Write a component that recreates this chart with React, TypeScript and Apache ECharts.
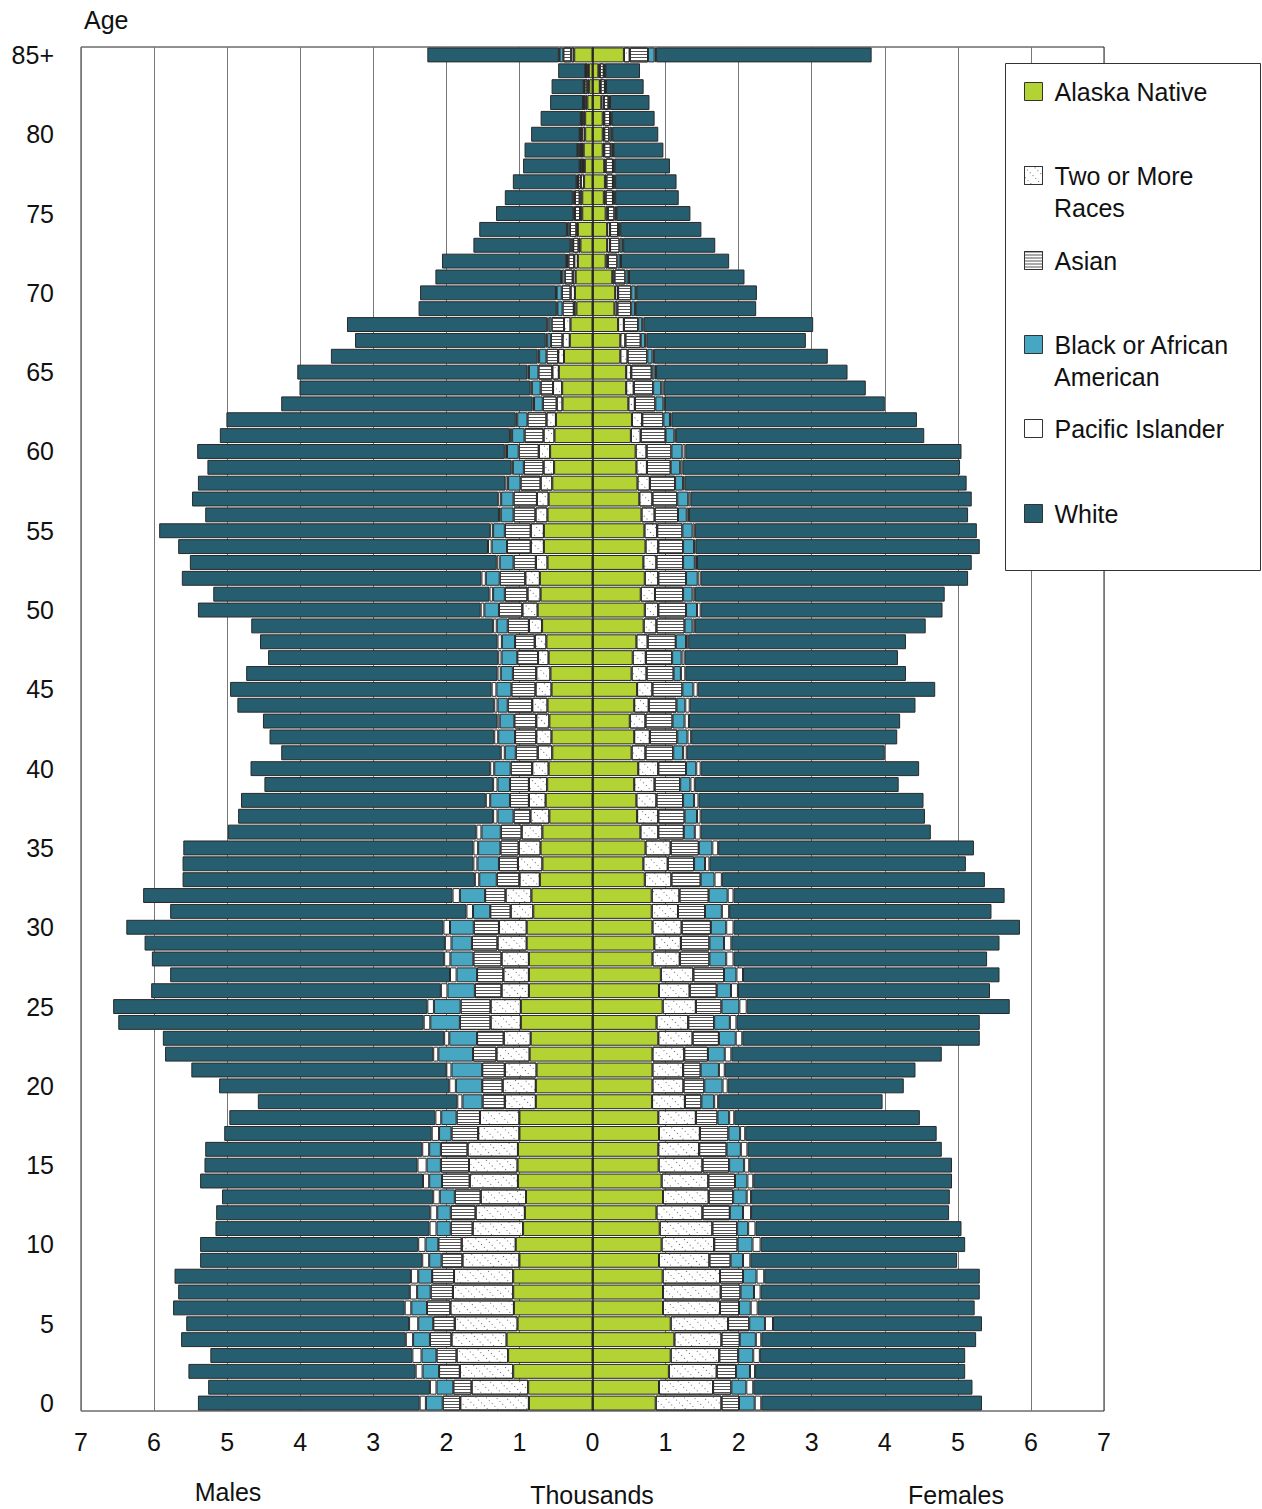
import React, { useEffect, useRef } from "react";
import * as echarts from "echarts";

// Ages 0..84 and 85+
const ages: string[] = [];
for (let i = 0; i < 85; i++) ages.push(String(i));
ages.push("85+");

const xTicks = [-7, -6, -5, -4, -3, -2, -1, 0, 1, 2, 3, 4, 5, 6, 7];

// ---- Males (thousands) ----
const mAlaska = [0.87,0.88,1.085,1.155,1.175,1.025,1.075,1.085,1.085,1.00, 1.05,0.95,0.925,0.91,1.02,1.025,1.02,1.00,1.00,0.775, 0.775,0.765,0.86,0.845,0.98,0.98,0.87,0.87,0.87,0.90, 0.90,0.81,0.835,0.72,0.685,0.71,0.685,0.59,0.64,0.62, 0.60,0.55,0.56,0.59,0.615,0.56,0.575,0.60,0.63,0.69, 0.75,0.71,0.72,0.615,0.665,0.665,0.615,0.60,0.55,0.525, 0.58,0.52,0.50,0.41,0.415,0.46,0.39,0.31,0.30,0.22, 0.24,0.23,0.20,0.165,0.20,0.14,0.14,0.115,0.105,0.12, 0.10,0.10,0.07,0.045,0.05,0.25];
const mTwo = [0.94,0.775,0.73,0.705,0.755,0.86,0.87,0.825,0.81,0.78, 0.74,0.69,0.675,0.62,0.66,0.665,0.69,0.565,0.54,0.425, 0.455,0.435,0.455,0.37,0.415,0.415,0.375,0.35,0.375,0.40, 0.38,0.31,0.355,0.28,0.335,0.30,0.285,0.26,0.23,0.25, 0.225,0.20,0.21,0.18,0.21,0.22,0.195,0.145,0.16,0.18, 0.21,0.18,0.20,0.16,0.18,0.18,0.165,0.16,0.16,0.145, 0.155,0.15,0.13,0.08,0.125,0.09,0.08,0.10,0.09,0.035, 0.06,0.04,0.05,0.025,0.02,0.03,0.035,0.045,0.025,0.025, 0.04,0.025,0.025,0.025,0.02,0.04];
const mAsian = [0.24,0.25,0.285,0.275,0.295,0.295,0.32,0.305,0.30,0.285, 0.32,0.30,0.34,0.355,0.38,0.385,0.365,0.365,0.32,0.305, 0.28,0.31,0.32,0.365,0.42,0.41,0.365,0.36,0.385,0.35, 0.345,0.28,0.28,0.31,0.26,0.25,0.285,0.23,0.26,0.26, 0.295,0.30,0.29,0.30,0.335,0.33,0.32,0.285,0.27,0.29, 0.32,0.31,0.35,0.305,0.325,0.355,0.30,0.32,0.275,0.27, 0.275,0.26,0.26,0.19,0.17,0.19,0.16,0.16,0.17,0.155, 0.12,0.11,0.08,0.075,0.09,0.07,0.065,0.04,0.03,0.025, 0.025,0.025,0.025,0.04,0.02,0.11];
const mBlack = [0.23,0.23,0.225,0.205,0.23,0.205,0.215,0.185,0.19,0.17, 0.175,0.195,0.185,0.205,0.175,0.195,0.16,0.17,0.21,0.275, 0.36,0.42,0.475,0.38,0.405,0.365,0.375,0.28,0.315,0.28, 0.325,0.235,0.345,0.24,0.295,0.305,0.265,0.22,0.27,0.17, 0.225,0.15,0.23,0.20,0.14,0.205,0.165,0.215,0.18,0.15, 0.20,0.16,0.19,0.19,0.21,0.16,0.175,0.17,0.17,0.15, 0.16,0.17,0.14,0.12,0.12,0.13,0.10,0.05,0.04,0.07, 0.07,0.04,0.02,0.025,0.03,0.01,0.02,0.01,0.01,0.03, 0.005,0.005,0.005,0.005,0.005,0.05];
const mPacific = [0.085,0.09,0.095,0.125,0.10,0.125,0.09,0.10,0.10,0.095, 0.10,0.095,0.095,0.09,0.085,0.125,0.095,0.10,0.08,0.07, 0.09,0.07,0.07,0.07,0.09,0.09,0.09,0.09,0.085,0.09, 0.09,0.09,0.10,0.06,0.055,0.065,0.07,0.06,0.06,0.06, 0.055,0.055,0.055,0.03,0.045,0.065,0.045,0.045,0.06,0.05, 0.05,0.05,0.06,0.04,0.05,0.04,0.025,0.04,0.035,0.02, 0.03,0.03,0.02,0.02,0.02,0.02,0.02,0.02,0.02,0.01, 0.01,0.01,0.01,0.01,0.01,0.01,0.01,0.01,0.005,0.005, 0.005,0.005,0.005,0.005,0.005,0.01];
const mWhite = [3.035,3.035,3.11,2.765,3.075,3.05,3.17,3.17,3.235,3.04, 2.985,2.93,2.93,2.89,3.05,2.915,2.97,2.84,2.82,2.73, 3.15,3.49,3.67,3.85,4.18,4.30,3.965,3.83,4.00,4.11, 4.34,4.055,4.235,4.00,3.98,3.97,3.40,3.49,3.35,3.13, 3.28,3.005,3.075,3.21,3.515,3.58,3.44,3.15,3.25,3.31, 3.87,3.78,4.10,4.20,4.24,4.53,4.02,4.19,4.21,4.16, 4.21,3.97,3.96,3.44,3.16,3.15,2.83,2.61,2.74,1.89, 1.86,1.72,1.70,1.33,1.20,1.06,0.93,0.87,0.775,0.725, 0.665,0.55,0.45,0.44,0.37,1.80];

// ---- Females (thousands) ----
const fAlaska = [0.865,0.91,1.045,1.07,1.12,1.07,0.965,0.965,0.96,0.91, 0.945,0.92,0.875,0.965,0.945,0.905,0.90,0.91,0.90,0.815, 0.82,0.82,0.82,0.90,0.875,0.96,0.91,0.935,0.82,0.845, 0.82,0.81,0.81,0.715,0.695,0.725,0.655,0.61,0.60,0.57, 0.625,0.535,0.57,0.51,0.57,0.61,0.535,0.55,0.60,0.70, 0.715,0.66,0.715,0.695,0.725,0.71,0.67,0.64,0.615,0.60, 0.59,0.525,0.54,0.49,0.46,0.46,0.38,0.38,0.35,0.30, 0.31,0.27,0.18,0.20,0.20,0.18,0.155,0.17,0.16,0.14, 0.14,0.14,0.12,0.10,0.08,0.43];
const fTwo = [0.90,0.74,0.655,0.665,0.645,0.785,0.78,0.79,0.785,0.69, 0.72,0.72,0.63,0.625,0.64,0.60,0.56,0.56,0.515,0.45, 0.425,0.42,0.435,0.47,0.435,0.455,0.42,0.445,0.375,0.365, 0.40,0.36,0.38,0.365,0.335,0.345,0.245,0.29,0.275,0.28, 0.275,0.19,0.215,0.215,0.20,0.21,0.205,0.18,0.155,0.175, 0.185,0.195,0.185,0.18,0.175,0.175,0.18,0.18,0.17,0.145, 0.15,0.135,0.14,0.09,0.105,0.07,0.10,0.07,0.08,0.04, 0.04,0.03,0.03,0.04,0.04,0.03,0.025,0.02,0.02,0.02, 0.02,0.02,0.035,0.01,0.02,0.08];
const fAsian = [0.24,0.25,0.265,0.26,0.25,0.29,0.26,0.27,0.315,0.29, 0.32,0.34,0.375,0.335,0.365,0.365,0.375,0.39,0.295,0.225, 0.285,0.24,0.325,0.36,0.355,0.35,0.37,0.42,0.405,0.39, 0.40,0.37,0.40,0.40,0.36,0.385,0.35,0.36,0.365,0.35, 0.38,0.38,0.375,0.37,0.38,0.41,0.37,0.36,0.385,0.385, 0.38,0.385,0.38,0.365,0.34,0.345,0.32,0.34,0.345,0.325, 0.34,0.34,0.29,0.28,0.265,0.28,0.27,0.21,0.195,0.19, 0.18,0.15,0.13,0.13,0.11,0.09,0.10,0.09,0.10,0.09, 0.07,0.08,0.065,0.06,0.055,0.25];
const fBlack = [0.215,0.205,0.19,0.205,0.22,0.215,0.16,0.185,0.185,0.17, 0.205,0.15,0.18,0.185,0.17,0.205,0.195,0.16,0.16,0.175, 0.25,0.25,0.23,0.23,0.215,0.245,0.195,0.17,0.23,0.20, 0.21,0.23,0.26,0.19,0.15,0.185,0.15,0.17,0.15,0.14, 0.14,0.135,0.14,0.165,0.12,0.15,0.10,0.13,0.14,0.11, 0.15,0.13,0.16,0.16,0.15,0.14,0.12,0.15,0.11,0.13, 0.15,0.12,0.09,0.11,0.11,0.04,0.07,0.06,0.055,0.05, 0.06,0.04,0.04,0.04,0.02,0.02,0.02,0.02,0.01,0.03, 0.03,0.01,0.01,0.01,0.015,0.09];
const fPacific = [0.09,0.095,0.07,0.09,0.075,0.11,0.095,0.09,0.105,0.10, 0.11,0.10,0.11,0.06,0.08,0.07,0.09,0.07,0.07,0.055, 0.07,0.08,0.09,0.09,0.09,0.10,0.095,0.09,0.10,0.10, 0.10,0.10,0.08,0.10,0.06,0.08,0.08,0.05,0.06,0.06, 0.06,0.05,0.05,0.06,0.06,0.06,0.06,0.04,0.03,0.03, 0.05,0.03,0.04,0.03,0.02,0.03,0.03,0.03,0.02,0.03, 0.04,0.02,0.02,0.02,0.03,0.02,0.02,0.02,0.02,0.01, 0.01,0.01,0.01,0.01,0.01,0.01,0.01,0.01,0.01,0.01, 0.01,0.01,0.01,0.005,0.005,0.02];
const fWhite = [3.02,3.00,2.875,2.81,2.94,2.86,2.97,3.00,2.95,2.83, 2.80,2.82,2.71,2.72,2.72,2.775,2.66,2.62,2.54,2.25, 2.41,2.61,2.88,3.25,3.33,3.60,3.45,3.51,3.47,3.67, 3.92,3.59,3.71,3.60,3.51,3.50,3.15,3.07,3.08,2.79, 2.99,2.71,2.82,2.89,3.09,3.25,3.02,2.92,2.98,3.16, 3.31,3.42,3.66,3.76,3.89,3.86,3.82,3.85,3.86,3.80, 3.78,3.40,3.36,3.01,2.77,2.62,2.38,2.18,2.32,1.65, 1.65,1.58,1.48,1.26,1.11,1.01,0.87,0.84,0.76,0.68, 0.63,0.59,0.54,0.515,0.475,2.95];

const FONT = "'Liberation Sans', Arial, Helvetica, sans-serif";
const FS = 25;

const twoDecal = {
  symbol: "rect",
  symbolSize: 0.8,
  color: "#444",
  dashArrayX: [1, 3],
  dashArrayY: [1, 6],
  rotation: Math.PI / 4,
};
const asianDecal = {
  symbol: "rect",
  symbolSize: 1,
  color: "#555",
  dashArrayX: [10, 0],
  dashArrayY: [1, 2],
  rotation: 0,
};

const groups = [
  { name: "Alaska Native", color: "#b3d335", decal: null as any, m: mAlaska, f: fAlaska },
  { name: "Two or More Races", color: "#ffffff", decal: twoDecal, m: mTwo, f: fTwo },
  { name: "Asian", color: "#ffffff", decal: asianDecal, m: mAsian, f: fAsian },
  { name: "Black or African American", color: "#47a6c2", decal: null as any, m: mBlack, f: fBlack },
  { name: "Pacific Islander", color: "#ffffff", decal: null as any, m: mPacific, f: fPacific },
  { name: "White", color: "#265e6f", decal: null as any, m: mWhite, f: fWhite },
];

const legendItems = [
  { name: "Alaska Native", label: "Alaska Native", cy: 91 },
  { name: "Two or More Races", label: "Two or More", cy: 175 },
  { name: "Asian", label: "Asian", cy: 260 },
  { name: "Black or African American", label: "Black or African", cy: 344 },
  { name: "Pacific Islander", label: "Pacific Islander", cy: 428 },
  { name: "White", label: "White", cy: 513 },
];

export default function App() {
  const ref = useRef<HTMLDivElement>(null);
  useEffect(() => {
    if (!ref.current) return;
    const chart = echarts.init(ref.current, null, { renderer: "svg" });
    const series: any[] = [];
    groups.forEach((g, gi) => {
      const itemStyle: any = { color: g.color, borderColor: "#2a2a2a", borderWidth: 1 };
      if (g.decal) itemStyle.decal = g.decal;
      series.push({
        name: g.name,
        type: "bar",
        stack: "males",
        data: g.m.map((v) => -v),
        barCategoryGap: "6%",
        barGap: "-100%",
        itemStyle,
        emphasis: { disabled: true },
      });
      const fs: any = {
        name: g.name,
        type: "bar",
        stack: "females",
        data: g.f,
        barCategoryGap: "6%",
        barGap: "-100%",
        itemStyle,
        emphasis: { disabled: true },
      };
      if (gi === groups.length - 1) {
        fs.markLine = {
          silent: true,
          symbol: ["none", "none"],
          label: { show: false },
          lineStyle: { color: "#222", width: 1.5, type: "solid" },
          data: [{ xAxis: 0 }],
        };
      }
      series.push(fs);
    });

    const option: any = {
      animation: false,
      textStyle: { fontFamily: FONT },
      grid: {
        left: 81,
        right: 158,
        top: 47,
        bottom: 98,
        show: true,
        borderColor: "#222",
        borderWidth: 1,
        backgroundColor: "transparent",
      },
      xAxis: {
        type: "value",
        min: xTicks[0],
        max: xTicks[xTicks.length - 1],
        interval: 1,
        axisLine: { show: false },
        axisTick: { show: false },
        splitLine: { show: true, lineStyle: { color: "#777", width: 1 } },
        axisLabel: {
          fontSize: FS,
          color: "#111",
          fontFamily: FONT,
          margin: 18,
          formatter: (v: number) => String(Math.abs(v)),
        },
      },
      yAxis: {
        type: "category",
        data: ages,
        axisLine: { show: false },
        axisTick: { show: false },
        splitLine: { show: false },
        axisLabel: {
          interval: 4,
          fontSize: FS,
          color: "#111",
          fontFamily: FONT,
          margin: 27,
        },
      },
      legend: legendItems.map((it) => ({
        data: [it.name],
        left: 1024,
        top: it.cy - 12,
        padding: 0,
        itemWidth: 18,
        itemHeight: 18,
        icon: "rect",
        selectedMode: false,
        z: 100,
        formatter: () => it.label,
        itemStyle: { borderColor: "#333", borderWidth: 1 },
        textStyle: {
          fontSize: FS,
          color: "#111",
          fontFamily: FONT,
          lineHeight: 18,
          padding: [0, 0, 0, 7],
        },
      })),
      graphic: [
        {
          type: "rect",
          z: 50,
          shape: { x: 1005.5, y: 63.5, width: 255, height: 507 },
          style: { fill: "#ffffff", stroke: "#333", lineWidth: 1 },
          silent: true,
        },
        {
          type: "text",
          z: 100,
          x: 1054,
          y: 208,
          style: { text: "Races", fontSize: FS, fontFamily: FONT, fill: "#111", verticalAlign: "middle", align: "left" },
        },
        {
          type: "text",
          z: 100,
          x: 1054,
          y: 377,
          style: { text: "American", fontSize: FS, fontFamily: FONT, fill: "#111", verticalAlign: "middle", align: "left" },
        },
        {
          type: "text",
          x: 84,
          y: 20,
          style: { text: "Age", fontSize: FS, fontFamily: FONT, fill: "#111", verticalAlign: "middle", align: "left" },
        },
        {
          type: "text",
          x: 228,
          y: 1492,
          style: { text: "Males", fontSize: FS, fontFamily: FONT, fill: "#111", verticalAlign: "middle", align: "center" },
        },
        {
          type: "text",
          x: 592,
          y: 1495,
          style: { text: "Thousands", fontSize: FS, fontFamily: FONT, fill: "#111", verticalAlign: "middle", align: "center" },
        },
        {
          type: "text",
          x: 956,
          y: 1495,
          style: { text: "Females", fontSize: FS, fontFamily: FONT, fill: "#111", verticalAlign: "middle", align: "center" },
        },
      ],
      series,
    };
    chart.setOption(option);
    return () => chart.dispose();
  }, []);

  return (
    <div
      ref={ref}
      style={{ position: "absolute", left: 0, top: 0, width: 1262, height: 1509, background: "#fff" }}
    />
  );
}
